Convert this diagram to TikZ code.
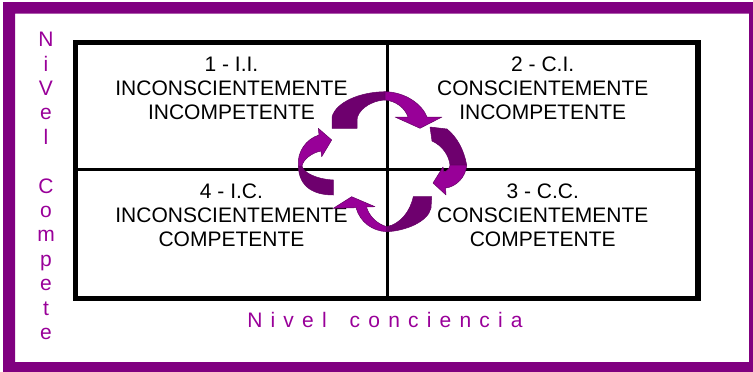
\documentclass[tikz,border=0pt]{standalone}
\usepackage{fontspec}
\setmainfont{Liberation Sans}
\definecolor{framepurple}{RGB}{128,0,128}
\definecolor{lblpurple}{RGB}{153,0,153}
\definecolor{arrdark}{RGB}{110,0,110}
\definecolor{arrlight}{RGB}{152,0,152}
\definecolor{arredge}{RGB}{100,0,100}
\begin{document}
\begin{tikzpicture}[x=1pt,y=-1pt,
  celltext/.style={align=center,inner sep=0pt,font=\fontsize{21}{24}\selectfont},
  lbltext/.style={align=center,inner sep=0pt,text=lblpurple},
  darkpart/.style={fill=arrdark,draw=arredge,line width=0.5pt,line join=round},
  lightpart/.style={fill=arrlight,draw=arredge,line width=0.5pt,line join=round},
  gridouter/.style={line width=5.5pt,line join=miter},
  gridinner/.style={line width=2.5pt}]
\useasboundingbox (0,0) rectangle (753,372);
% purple frame
\fill[framepurple,even odd rule] (3,2) rectangle (753,372) (15,13.5) rectangle (749,362);
% grid
\draw[gridinner] (387.5,42.5) -- (387.5,298.5);
\draw[gridinner] (75.5,169.5) -- (698,169.5);
\draw[gridouter] (75.5,42.5) rectangle (698,298.5);
% cell texts
\node[celltext] (q1) at (231.5,88.5) {1 - I.I.\\INCONSCIENTEMENTE\\INCOMPETENTE};
\node[celltext] (q2) at (542.75,88.5) {2 - C.I.\\CONSCIENTEMENTE\\INCOMPETENTE};
\node[celltext] (q4) at (231.5,215) {4 - I.C.\\INCONSCIENTEMENTE\\COMPETENTE};
\node[celltext] (q3) at (542.75,215) {3 - C.C.\\CONSCIENTEMENTE\\COMPETENTE};
% axis labels
\node[lbltext,anchor=north,font=\fontsize{21}{24.4}\selectfont] (ylab) at (46,32)
  {N\\i\\V\\e\\l\\[24.4pt]C\\o\\m\\p\\e\\t\\e};
\node[lbltext,anchor=base,font=\fontsize{21}{24}\selectfont\addfontfeature{LetterSpace=39}] (xlab) at (385,327) {Nivel\hspace{9pt} conciencia};
% top arrow
\path[darkpart] (332,128.3) -- (332,117) .. controls (336,102) and (360,92) .. (385,91.7)
  -- (385,100) .. controls (368,101) and (357,112) .. (357,120) -- (357,128.3) -- cycle;
\path[lightpart] (385,91.7) .. controls (405,92) and (422,104) .. (427,117) -- (442,117)
  -- (420,128.3) -- (395,117) -- (408,117) .. controls (405,108) and (396,101) .. (385,100) -- cycle;
% right arrow
\path[darkpart] (430,127) -- (447,129) .. controls (457,137) and (464,150) .. (466.7,165)
  -- (450,165) .. controls (449,156) and (443,146) .. (432,141) -- cycle;
\path[lightpart] (450,165) -- (466.7,165) .. controls (466,177) and (456,187) .. (445.5,188)
  -- (446,195) -- (433,183) -- (443,167) -- (444,172) .. controls (447,171) and (450,168) .. (450,165) -- cycle;
% bottom arrow
\path[darkpart] (413.3,196.7) -- (431.7,196.7) -- (431,208) .. controls (428,222) and (405,231) .. (386.7,231.7)
  -- (386.7,226.7) .. controls (400,224) and (410,212) .. (413.3,196.7) -- cycle;
\path[lightpart] (386.7,226.7) -- (386.7,231.7) .. controls (372,231) and (360,222) .. (356,207.7)
  -- (333.3,208.3) -- (351.7,196.7) -- (375,206.7) -- (366.5,207) .. controls (369,216) and (377,224) .. (386.7,226.7) -- cycle;
% left arrow
\path[darkpart] (333.3,180) -- (333.3,195) .. controls (315,195) and (299,188) .. (298.3,166)
  -- (302,166) .. controls (303,172) and (315,179) .. (333.3,180) -- cycle;
\path[lightpart] (298.3,166) .. controls (297,152) and (306,139) .. (319,135) -- (318.3,128.3)
  -- (331.7,140) -- (321.7,156.7) -- (321,151) .. controls (311,153) and (303,160) .. (302,166) -- cycle;
\end{tikzpicture}
\end{document}
